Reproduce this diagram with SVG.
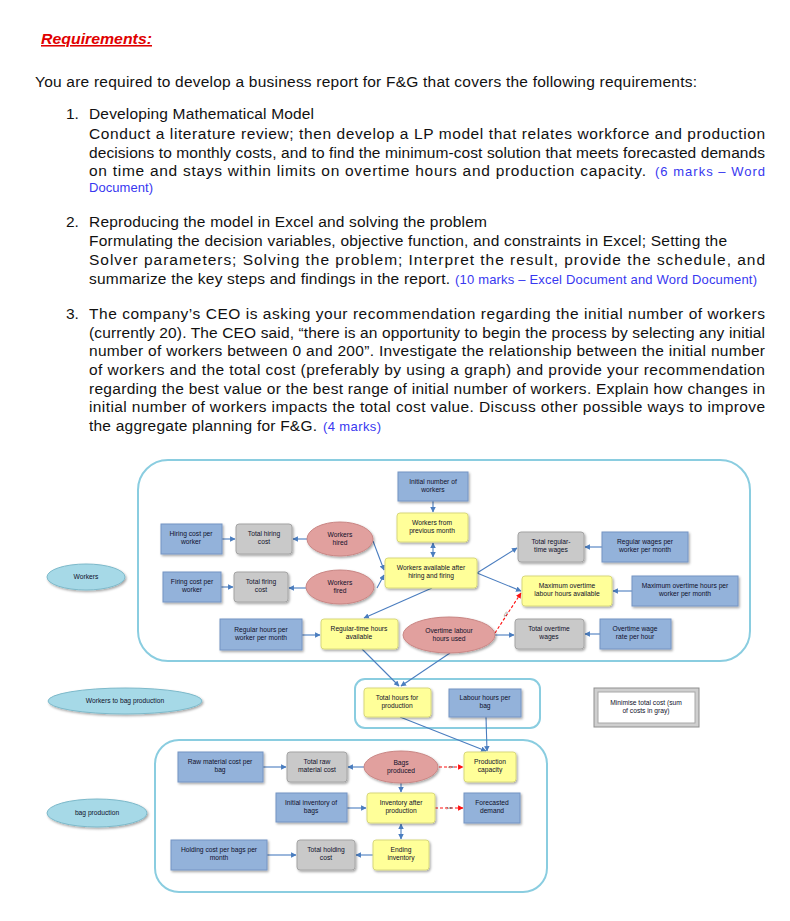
<svg xmlns="http://www.w3.org/2000/svg" width="790" height="921" viewBox="0 0 790 921">
<style>
.t{font-family:"Liberation Sans",Arial,sans-serif;font-size:15.5px;fill:#111}
.m{font-family:"Liberation Sans",Arial,sans-serif;font-size:13px;fill:#3838f0}
.h{font-family:"Liberation Sans",Arial,sans-serif;font-size:15.5px;font-weight:bold;font-style:italic;fill:#e00000;text-decoration:underline}
.n text{font-family:"Liberation Sans",Arial,sans-serif;font-size:6.7px;fill:#10102a;text-anchor:middle}
.blue{fill:#93b2da;stroke:#7494c4;stroke-width:1;filter:url(#sh)}
.yel{fill:#ffff99;stroke:#d8d87c;stroke-width:1;filter:url(#sh)}
.gray{fill:#c9c9c9;stroke:#a4a4a4;stroke-width:1;filter:url(#sh)}
.red{fill:#e1a09e;stroke:#c98684;stroke-width:1;filter:url(#sh)}
.cyan{fill:#a6d9e7;stroke:#7db9ca;stroke-width:1;filter:url(#sh)}
.cont{fill:none;stroke:#8acde0;stroke-width:2}
.c{fill:none;stroke:#4a7dbf;stroke-width:1.1;marker-end:url(#ab)}
.cd{fill:none;stroke:#4a7dbf;stroke-width:1.1;marker-end:url(#ab);marker-start:url(#ab)}
.rc{fill:none;stroke:#ff1010;stroke-width:1.1;stroke-dasharray:3,2;marker-end:url(#ar)}
.lbl{font-family:"Liberation Sans",Arial,sans-serif;font-size:5px;fill:#444;text-anchor:middle}
</style>
<defs>
<filter id="sh" x="-20%" y="-20%" width="140%" height="150%"><feDropShadow dx="1.2" dy="1.5" stdDeviation="0.9" flood-color="#000" flood-opacity="0.35"/></filter>
<marker id="ab" viewBox="0 0 10 10" refX="9" refY="5" markerWidth="5" markerHeight="5" orient="auto-start-reverse"><path d="M0,0 L10,5 L0,10 z" fill="#4a7dbf"/></marker>
<marker id="ar" viewBox="0 0 10 10" refX="9" refY="5" markerWidth="5" markerHeight="5" orient="auto-start-reverse"><path d="M0,0 L10,5 L0,10 z" fill="#ff1010"/></marker>
</defs>
<rect width="790" height="921" fill="#fff"/>

<g id="text">
<text class="h" x="41" y="44" textLength="111" lengthAdjust="spacingAndGlyphs">Requirements:</text>
<text class="t" x="35" y="87" textLength="662">You are required to develop a business report for F&amp;G that covers the following requirements:</text>
<text class="t" x="66" y="119">1.</text>
<text class="t" x="89" y="119" textLength="225">Developing Mathematical Model</text>
<text class="t" x="89" y="139" textLength="676">Conduct a literature review; then develop a LP model that relates workforce and production</text>
<text class="t" x="89" y="158" textLength="676">decisions to monthly costs, and to find the minimum-cost solution that meets forecasted demands</text>
<text class="t" x="89" y="176" textLength="557">on time and stays within limits on overtime hours and production capacity.</text>
<text class="m" x="655" y="176" textLength="110">(6 marks – Word</text>
<text class="m" x="89" y="192" textLength="64">Document)</text>
<text class="t" x="66" y="227">2.</text>
<text class="t" x="89" y="227" textLength="398">Reproducing the model in Excel and solving the problem</text>
<text class="t" x="89" y="246" textLength="638">Formulating the decision variables, objective function, and constraints in Excel; Setting the</text>
<text class="t" x="89" y="265" textLength="676">Solver parameters; Solving the problem; Interpret the result, provide the schedule, and</text>
<text class="t" x="89" y="284" textLength="361">summarize the key steps and findings in the report.</text>
<text class="m" x="455" y="284" textLength="302">(10 marks – Excel Document and Word Document)</text>
<text class="t" x="66" y="319">3.</text>
<text class="t" x="89" y="319" textLength="676">The company’s CEO is asking your recommendation regarding the initial number of workers</text>
<text class="t" x="89" y="338" textLength="676">(currently 20). The CEO said, “there is an opportunity to begin the process by selecting any initial</text>
<text class="t" x="89" y="356" textLength="676">number of workers between 0 and 200”. Investigate the relationship between the initial number</text>
<text class="t" x="89" y="375" textLength="676">of workers and the total cost (preferably by using a graph) and provide your recommendation</text>
<text class="t" x="89" y="394" textLength="676">regarding the best value or the best range of initial number of workers. Explain how changes in</text>
<text class="t" x="89" y="412" textLength="676">initial number of workers impacts the total cost value. Discuss other possible ways to improve</text>
<text class="t" x="89" y="431" textLength="228">the aggregate planning for F&amp;G.</text>
<text class="m" x="323" y="431" textLength="58">(4 marks)</text>
</g>

<g id="containers">
<rect class="cont" x="138" y="460" width="612" height="201" rx="30"/>
<rect class="cont" x="355" y="679" width="185" height="49" rx="10"/>
<rect class="cont" x="155" y="740" width="392" height="152" rx="24"/>
</g>

<g id="connectors">
<path class="c" d="M433,501 L433,512"/>
<path class="cd" d="M433,543 L433,557"/>
<path class="c" d="M222,539 L235,539"/>
<path class="c" d="M307,539 L293,539"/>
<path class="c" d="M373,541 L384,570"/>
<path class="c" d="M377,588 L384,575"/>
<path class="c" d="M221,587 L233,587"/>
<path class="c" d="M306,588 L289,588"/>
<path class="c" d="M432,588 L364,618"/>
<path class="c" d="M477,573 L517,548"/>
<path class="c" d="M477,573 L521,591"/>
<path class="c" d="M602,547 L585,547"/>
<path class="c" d="M632,591 L613,591"/>
<path class="c" d="M302,635 L320,635"/>
<path class="c" d="M495,635 L514,635"/>
<path class="c" d="M600,634 L585,634"/>
<path class="rc" d="M495,633 L521,593"/>
<text class="lbl" transform="translate(507,615) rotate(-57)">&lt;=</text>
<path class="c" d="M362,649 L399,686"/>
<path class="c" d="M450,653 L401,686"/>
<path class="c" d="M400,717 L486,751"/>
<path class="c" d="M486,717 L487,751"/>
<path class="c" d="M263,767 L286,767"/>
<path class="c" d="M364,767 L348,767"/>
<path class="c" d="M401,783 L401,792"/>
<path class="rc" d="M439,767 L463,767"/>
<text class="lbl" x="451" y="768.5">&lt;=</text>
<path class="c" d="M347,808 L366,808"/>
<path class="rc" d="M435,808 L463,808"/>
<text class="lbl" x="449" y="809.5">&gt;=</text>
<path class="cd" d="M401,824 L401,839"/>
<path class="c" d="M373,855 L356,855"/>
<path class="c" d="M267,855 L296,855"/>
</g>

<g id="workers" class="n"><ellipse class="cyan" cx="86" cy="577" rx="39" ry="13"/><text x="86" y="579">Workers</text></g>
<g id="workers-to-bag" class="n"><ellipse class="cyan" cx="125" cy="701" rx="77" ry="13"/><text x="125" y="703">Workers to bag  production</text></g>
<g id="bag-production" class="n"><ellipse class="cyan" cx="97" cy="813" rx="50" ry="14"/><text x="97" y="815">bag production</text></g>

<g id="initial-workers" class="n"><rect class="blue" x="398" y="472" width="70" height="29"/><text x="433" y="484">Initial number of</text><text x="433" y="492">workers</text></g>
<g id="workers-prev" class="n"><rect class="yel" x="397" y="513" width="71" height="29" rx="3"/><text x="432" y="525">Workers from</text><text x="432" y="533">previous month</text></g>
<g id="hiring-cost" class="n"><rect class="blue" x="161" y="524" width="61" height="30"/><text x="191" y="536">Hiring cost per</text><text x="191" y="544">worker</text></g>
<g id="total-hiring" class="n"><rect class="gray" x="236" y="524" width="56" height="30" rx="3"/><text x="264" y="536">Total hiring</text><text x="264" y="544">cost</text></g>
<g id="workers-hired" class="n"><ellipse class="red" cx="340" cy="539" rx="33" ry="17"/><text x="340" y="537">Workers</text><text x="340" y="545">hired</text></g>
<g id="workers-available" class="n"><rect class="yel" x="385" y="558" width="92" height="30" rx="3"/><text x="431" y="570">Workers available after</text><text x="431" y="578">hiring and firing</text></g>
<g id="firing-cost" class="n"><rect class="blue" x="163" y="572" width="58" height="30"/><text x="192" y="584">Firing cost per</text><text x="192" y="592">worker</text></g>
<g id="total-firing" class="n"><rect class="gray" x="234" y="572" width="54" height="30" rx="3"/><text x="261" y="584">Total firing</text><text x="261" y="592">cost</text></g>
<g id="workers-fired" class="n"><ellipse class="red" cx="340" cy="587" rx="34" ry="17"/><text x="340" y="585">Workers</text><text x="340" y="593">fired</text></g>
<g id="regular-hours" class="n"><rect class="blue" x="220" y="619" width="82" height="31"/><text x="261" y="632">Regular hours per</text><text x="261" y="640">worker per month</text></g>
<g id="regular-available" class="n"><rect class="yel" x="321" y="619" width="77" height="30" rx="3"/><text x="359" y="631">Regular-time hours</text><text x="359" y="639">available</text></g>
<g id="overtime-used" class="n"><ellipse class="red" cx="449" cy="635" rx="46" ry="18"/><text x="449" y="633">Overtime labour</text><text x="449" y="641">hours used</text></g>
<g id="total-regular" class="n"><rect class="gray" x="518" y="532" width="66" height="30" rx="3"/><text x="551" y="544">Total regular-</text><text x="551" y="552">time wages</text></g>
<g id="regular-wages" class="n"><rect class="blue" x="602" y="532" width="86" height="30"/><text x="645" y="544">Regular wages per</text><text x="645" y="552">worker per month</text></g>
<g id="max-overtime" class="n"><rect class="yel" x="522" y="576" width="90" height="30" rx="3"/><text x="567" y="588">Maximum overtime</text><text x="567" y="596">labour hours available</text></g>
<g id="max-overtime-worker" class="n"><rect class="blue" x="632" y="576" width="106" height="30"/><text x="685" y="588">Maximum overtime hours per</text><text x="685" y="596">worker per month</text></g>
<g id="total-overtime" class="n"><rect class="gray" x="515" y="619" width="69" height="30" rx="3"/><text x="549" y="631">Total overtime</text><text x="549" y="639">wages</text></g>
<g id="overtime-rate" class="n"><rect class="blue" x="600" y="619" width="71" height="30"/><text x="635" y="631">Overtime wage</text><text x="635" y="639">rate per hour</text></g>

<g id="total-hours" class="n"><rect class="yel" x="364" y="688" width="67" height="29" rx="3"/><text x="397" y="700">Total hours for</text><text x="397" y="708">production</text></g>
<g id="labour-per-bag" class="n"><rect class="blue" x="449" y="689" width="72" height="28"/><text x="485" y="700">Labour hours per</text><text x="485" y="708">bag</text></g>
<g id="minimise" class="n"><rect x="594" y="688" width="105" height="39" fill="#cfcfcf" stroke="#8f8f8f" stroke-width="1"/><rect x="598" y="692" width="97" height="31" fill="#fff" stroke="#a8a8a8" stroke-width="1"/><text x="646" y="705">Minimise total cost (sum</text><text x="646" y="713">of costs in gray)</text></g>

<g id="raw-material-cost" class="n"><rect class="blue" x="178" y="752" width="85" height="30"/><text x="220" y="764">Raw material cost per</text><text x="220" y="772">bag</text></g>
<g id="total-raw" class="n"><rect class="gray" x="287" y="752" width="60" height="30" rx="3"/><text x="317" y="764">Total raw</text><text x="317" y="772">material cost</text></g>
<g id="bags-produced" class="n"><ellipse class="red" cx="401" cy="767" rx="37" ry="16"/><text x="401" y="765">Bags</text><text x="401" y="773">produced</text></g>
<g id="production-capacity" class="n"><rect class="yel" x="464" y="752" width="52" height="30" rx="3"/><text x="490" y="764">Production</text><text x="490" y="772">capacity</text></g>
<g id="initial-inventory" class="n"><rect class="blue" x="276" y="793" width="71" height="29"/><text x="311" y="805">Initial inventory of</text><text x="311" y="813">bags</text></g>
<g id="inventory-after" class="n"><rect class="yel" x="367" y="793" width="68" height="30" rx="3"/><text x="401" y="805">Inventory after</text><text x="401" y="813">production</text></g>
<g id="forecasted-demand" class="n"><rect class="blue" x="464" y="793" width="56" height="30"/><text x="492" y="805">Forecasted</text><text x="492" y="813">demand</text></g>
<g id="holding-cost" class="n"><rect class="blue" x="171" y="840" width="96" height="30"/><text x="219" y="852">Holding cost per bags per</text><text x="219" y="860">month</text></g>
<g id="total-holding" class="n"><rect class="gray" x="297" y="840" width="58" height="30" rx="3"/><text x="326" y="852">Total holding</text><text x="326" y="860">cost</text></g>
<g id="ending-inventory" class="n"><rect class="yel" x="373" y="840" width="56" height="30" rx="3"/><text x="401" y="852">Ending</text><text x="401" y="860">inventory</text></g>
</svg>
